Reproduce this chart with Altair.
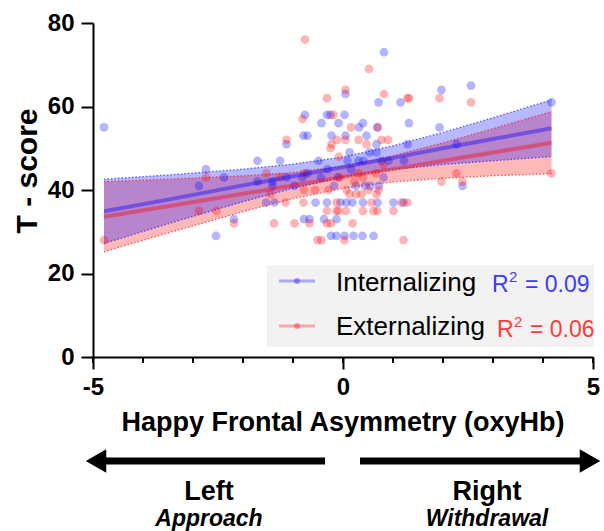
import altair as alt
import pandas as pd

FONT = "Liberation Sans"

# ---------------- data ----------------
series = ["Internalizing", "Externalizing"]
r2_values = ["= 0.09", "= 0.06"]

int_x = [-4.78, 4.17, -0.76, -0.32, -0.25, -0.43, -0.09, -0.79, -0.71, -0.23, -1.13, -1.71, -1.26, -0.49,
         -2.74, -2.38, -2.88, -0.31, 0.82, 0.05, 0.71, 1.15, 1.97, 2.56, 0.03, 0.40, 0.32, 0.69, 1.32, 1.93,
         0.05, 0.47, 0.67, 0.13, 0.53, 0.67, 1.29, 2.27, 2.39, 0.31, 0.41, 0.77, 0.91, 1.22, 0.16, -0.10,
         0.81, -0.18, 0.26, 0.44, 0.55, 0.72, -0.55, -0.32, -0.05, 0.07, 0.19, 0.40, 0.69, 1.01, 1.21,
         -0.38, -0.13, -0.24, -0.13, 0.03, 0.21, 0.39, 0.61, -2.18, -2.54, -0.78, -0.67, -1.37, -1.54,
         -1.71, -1.41, -1.41, -1.13, -0.81, -0.44, -0.97, 0.09, -0.71]
int_y = [55, 61, 58, 58, 58, 56, 56, 53, 53, 53, 51, 47, 47, 47,
         45, 43, 41, 45, 73, 63, 61, 61, 64, 65, 58, 56, 55, 55, 56, 55,
         53, 53, 51, 49, 49, 49, 51, 51, 41, 47, 47, 47, 47, 47, 45, 43,
         43, 41, 41, 41, 41, 41, 37, 37, 37, 37, 37, 37, 37, 37, 37,
         33, 33, 29, 29, 29, 29, 29, 29, 33, 29, 33, 33, 37, 37,
         42, 42, 41, 43, 43, 43, 41, 47, 44]

ext_x = [-4.78, 4.17, -0.76, -0.32, -0.81, -0.19, -1.13, -0.12, -0.23, -0.25, -0.08, -2.74, -1.53, -0.77,
         0.52, 0.05, 0.82, 1.29, 1.32, 1.93, 2.56, 0.16, 0.69, 0.31, 0.05, 0.77, 0.90, 0.47, 2.27, 1.97,
         2.39, 0.81, 0.31, 0.66, -0.07, 0.40, 0.23, -0.13, 0.57, 1.17, 1.29, -0.32, -0.13, -0.09, 0.06,
         0.40, 0.61, 0.69, 1.01, -0.32, -0.24, 0.19, 0.03, -0.51, -0.43, 1.21, -0.56, -0.29, 0.07, 0.13,
         0.26, 0.37, 0.51, 0.67, 0.71, -2.88, -2.53, -2.18, -1.38, -0.97, -0.67, -1.15, -0.79, -1.45,
         -0.78, -1.26]
ext_y = [28, 44, 76, 62, 57, 58, 52, 52, 51, 50, 48, 43, 44, 44,
         69, 64, 63, 62, 62, 62, 61, 55, 55, 52, 52, 52, 52, 51, 44, 42,
         42, 46, 44, 44, 43, 43, 42, 37, 37, 37, 37, 35, 35, 35, 35,
         35, 35, 35, 35, 32, 32, 32, 28, 28, 28, 28, 40, 40, 40, 39,
         39, 39, 40, 39, 40, 35, 35, 32, 32, 32, 32, 37, 37, 39,
         40, 43]

# regression lines and 95% bands
band_x = [-4.78, -3.5, -2, -1, 0, 1, 2, 3, 4.17]
int_fit = [34.9, 37.7, 41.1, 43.3, 45.5, 47.7, 50.0, 52.2, 54.8]
int_lo = [27.2, 31.9, 37.2, 40.4, 43.1, 44.9, 46.1, 47.0, 48.0]
int_hi = [42.6, 43.6, 45.0, 46.2, 47.9, 50.6, 53.8, 57.3, 61.6]
ext_fit = [33.6, 36.1, 39.1, 41.1, 43.1, 45.0, 47.0, 49.0, 51.3]
ext_lo = [25.2, 29.7, 34.8, 37.9, 40.4, 41.9, 42.8, 43.4, 43.9]
ext_hi = [42.0, 42.6, 43.4, 44.2, 45.7, 48.2, 51.3, 54.7, 58.8]

x_major = [-5, 0, 5]
x_minor = [-5, -4, -3, -2, -1, 0, 1, 2, 3, 4, 5]
y_ticks = [0, 20, 40, 60, 80]

# ---------------- tables ----------------
pts = pd.concat([
    pd.DataFrame({"x": int_x, "y": int_y, "s": series[0]}),
    pd.DataFrame({"x": ext_x, "y": ext_y, "s": series[1]}),
])
bands = pd.concat([
    pd.DataFrame({"x": band_x, "lo": int_lo, "hi": int_hi, "fit": int_fit, "s": series[0]}),
    pd.DataFrame({"x": band_x, "lo": ext_lo, "hi": ext_hi, "fit": ext_fit, "s": series[1]}),
])
edges = pd.concat([
    pd.DataFrame({"x": band_x, "v": int_lo, "e": "il", "s": series[0]}),
    pd.DataFrame({"x": band_x, "v": int_hi, "e": "ih", "s": series[0]}),
    pd.DataFrame({"x": band_x, "v": ext_lo, "e": "el", "s": series[1]}),
    pd.DataFrame({"x": band_x, "v": ext_hi, "e": "eh", "s": series[1]}),
])
minor = pd.DataFrame({"t": x_minor})
one = pd.DataFrame({"k": [0]})

cscale = alt.Scale(domain=series, range=["#0000ff", "#ff0000"])
xs = alt.Scale(domain=[-5, 5], nice=False, zero=False)
ys = alt.Scale(domain=[0, 80], nice=False, zero=True)

xaxis = alt.Axis(values=x_major, tickSize=12, tickWidth=2, tickColor="black", domainColor="black",
                 domainWidth=2, labelFont=FONT, labelFontSize=24, labelFontWeight="bold",
                 labelColor="black", labelPadding=6, labelFlush=False, grid=False, title=None,
                 labelExpr="'' + datum.value")
yaxis = alt.Axis(values=y_ticks, tickSize=12, tickWidth=2, tickColor="black", domainColor="black",
                 domainWidth=2, labelFont=FONT, labelFontSize=24, labelFontWeight="bold",
                 labelColor="black", labelPadding=7, grid=False, title=None)

X = alt.X("x:Q", scale=xs, axis=xaxis)

band_red = alt.Chart(bands[bands.s == series[1]]).mark_area(color="#ff0000", opacity=0.28).encode(
    x=X, y=alt.Y("lo:Q", scale=ys, axis=yaxis), y2="hi:Q")
band_blue = alt.Chart(bands[bands.s == series[0]]).mark_area(color="#0000ff", opacity=0.28).encode(
    x=X, y=alt.Y("lo:Q", scale=ys, axis=yaxis), y2="hi:Q")
edge_lines = alt.Chart(edges).mark_line(strokeWidth=1.3, strokeDash=[1.5, 2], opacity=0.6).encode(
    x=X, y=alt.Y("v:Q", scale=ys, axis=yaxis), detail="e:N",
    color=alt.Color("s:N", scale=cscale, legend=None))
points = alt.Chart(pts).mark_circle(size=76, opacity=0.29).encode(
    x=X, y=alt.Y("y:Q", scale=ys, axis=yaxis),
    color=alt.Color("s:N", scale=cscale, legend=None))
fit_lines = alt.Chart(bands).mark_line(strokeWidth=4, opacity=0.38).encode(
    x=X, y=alt.Y("fit:Q", scale=ys, axis=yaxis), detail="s:N",
    color=alt.Color("s:N", scale=cscale, legend=None))
minor_ticks = alt.Chart(minor).mark_rule(color="black", strokeWidth=2).encode(
    x=alt.X("t:Q", scale=xs, axis=xaxis), y=alt.value(334), y2=alt.value(340))


def txt(s, x, y, size, color="black", weight="normal", style="normal", align="center",
        baseline="middle", angle=0):
    return alt.Chart(one).mark_text(text=s, font=FONT, fontSize=size, fontWeight=weight,
                                    fontStyle=style, color=color, align=align, baseline=baseline,
                                    angle=angle).encode(x=alt.value(x), y=alt.value(y))


# legend
leg_box = alt.Chart(one).mark_rect(color="#f2f2f2").encode(
    x=alt.value(174), x2=alt.value(501), y=alt.value(242), y2=alt.value(324))
leg_l1 = alt.Chart(one).mark_rule(color="#0000ff", opacity=0.3, strokeWidth=3).encode(
    x=alt.value(186), x2=alt.value(222), y=alt.value(258))
leg_l2 = alt.Chart(one).mark_rule(color="#ff0000", opacity=0.3, strokeWidth=3).encode(
    x=alt.value(186), x2=alt.value(222), y=alt.value(303))
leg_d1 = alt.Chart(one).mark_circle(color="#0000ff", opacity=0.35, size=36).encode(
    x=alt.value(204), y=alt.value(258))
leg_d2 = alt.Chart(one).mark_circle(color="#ff0000", opacity=0.35, size=36).encode(
    x=alt.value(204), y=alt.value(303))

BLUE_T = "#3b3bff"
RED_T = "#ff3b3b"
annos = [
    leg_box, leg_l1, leg_l2, leg_d1, leg_d2,
    txt(series[0], 243, 268, 26, align="left", baseline="alphabetic"),
    txt(series[1], 243, 312, 26, align="left", baseline="alphabetic"),
    txt("R", 399, 269, 23, color=BLUE_T, align="left", baseline="alphabetic"),
    txt("2", 416, 259, 15, color=BLUE_T, align="left", baseline="alphabetic"),
    txt(r2_values[0], 432, 269, 23, color=BLUE_T, align="left", baseline="alphabetic"),
    txt("R", 404, 314, 23, color=RED_T, align="left", baseline="alphabetic"),
    txt("2", 421, 304, 15, color=RED_T, align="left", baseline="alphabetic"),
    txt(r2_values[1], 437, 314, 23, color=RED_T, align="left", baseline="alphabetic"),
    # axis titles
    txt("T - score", -65, 148, 30, weight="bold", angle=270),
    txt("Happy Frontal Asymmetry (oxyHb)", 250, 400, 27, weight="bold"),
    # arrows
    alt.Chart(one).mark_rule(color="black", strokeWidth=7).encode(
        x=alt.value(8), x2=alt.value(232), y=alt.value(438)),
    alt.Chart(one).mark_point(shape="triangle-left", filled=True, size=560, color="black",
                              opacity=1).encode(x=alt.value(3), y=alt.value(438)),
    alt.Chart(one).mark_rule(color="black", strokeWidth=7).encode(
        x=alt.value(267), x2=alt.value(495), y=alt.value(438)),
    alt.Chart(one).mark_point(shape="triangle-right", filled=True, size=560, color="black",
                              opacity=1).encode(x=alt.value(497), y=alt.value(438)),
    txt("Left", 116, 469, 27, weight="bold"),
    txt("Approach", 116, 496, 23, weight="bold", style="italic"),
    txt("Right", 394, 469, 27, weight="bold"),
    txt("Withdrawal", 394, 496, 23, weight="bold", style="italic"),
]

chart = alt.layer(
    band_red, band_blue, edge_lines, points, fit_lines, minor_ticks, *annos
).properties(
    width=500, height=334,
    autosize=alt.AutoSizeParams(type="none"),
    padding={"left": 93, "top": 23, "right": 11, "bottom": 174},
    background="white",
).configure_view(stroke=None)

chart.save("out.html", embed_options={"renderer": "svg", "actions": False})
